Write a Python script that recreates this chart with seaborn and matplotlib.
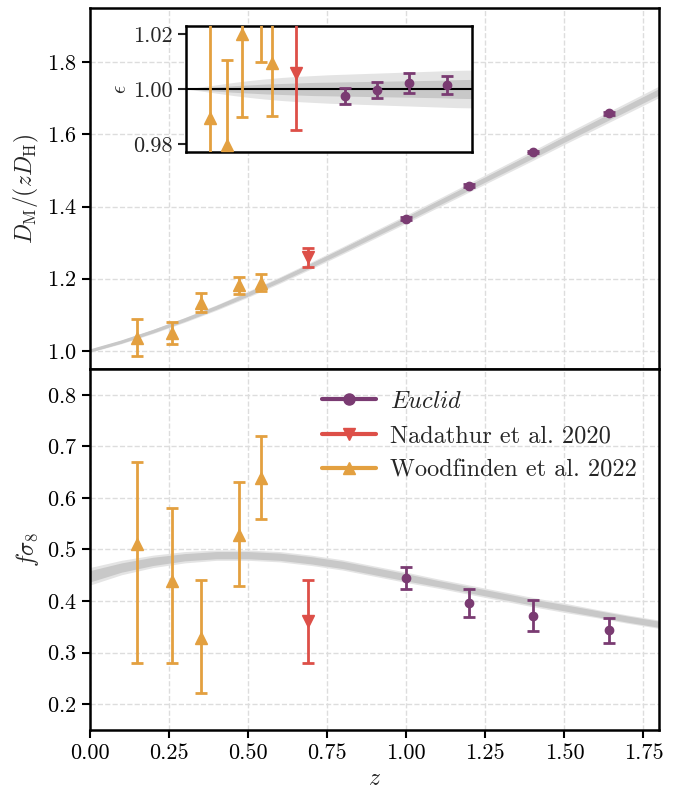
import numpy as np
import matplotlib
matplotlib.use("Agg")
import matplotlib.pyplot as plt
import seaborn as sns
from matplotlib.lines import Line2D

# theory curves
z_th = [0.0, 0.1, 0.2, 0.3, 0.4, 0.5, 0.6, 0.7, 0.8, 0.9, 1.0, 1.1, 1.2, 1.3, 1.4, 1.5, 1.6, 1.7, 1.8]
dm_th = [1.000, 1.025, 1.054, 1.086, 1.120, 1.157, 1.196, 1.237, 1.279, 1.322, 1.365, 1.409, 1.453,
         1.497, 1.541, 1.586, 1.630, 1.674, 1.718]
fs8_th = [0.448, 0.465, 0.477, 0.485, 0.489, 0.489, 0.486, 0.479, 0.470, 0.458, 0.446, 0.434, 0.422,
          0.410, 0.398, 0.387, 0.376, 0.365, 0.355]
eps_outer = [0.0, 0.0008, 0.0016, 0.0024, 0.0031, 0.0037, 0.0042, 0.0046, 0.0049, 0.0052, 0.0054,
             0.0056, 0.0058, 0.0060, 0.0062, 0.0064, 0.0066, 0.0068, 0.0069]
eps_inner = [0.0, 0.0004, 0.0008, 0.0012, 0.0015, 0.0018, 0.0020, 0.0022, 0.0024, 0.0025, 0.0026,
             0.0027, 0.0028, 0.0029, 0.0030, 0.0031, 0.0032, 0.0034, 0.0035]
fs8_outer = [0.017, 0.014, 0.012, 0.011, 0.010, 0.010, 0.010, 0.010, 0.010, 0.010, 0.010, 0.009,
             0.009, 0.009, 0.009, 0.009, 0.008, 0.008, 0.008]
fs8_inner = [0.011, 0.009, 0.008, 0.007, 0.007, 0.007, 0.007, 0.007, 0.007, 0.007, 0.007, 0.006,
             0.006, 0.006, 0.006, 0.006, 0.006, 0.006, 0.006]

# Euclid forecast
z_euc = [1.0, 1.2, 1.4, 1.64]
dm_euc = [1.366, 1.457, 1.551, 1.658]
dm_euc_err = [0.004, 0.004, 0.004, 0.004]
fs8_euc = [0.445, 0.397, 0.372, 0.343]
fs8_euc_err = [0.022, 0.027, 0.030, 0.024]
eps_euc = [0.9975, 0.9996, 1.0022, 1.0015]
eps_euc_err = [0.0028, 0.0030, 0.0038, 0.0034]

# Nadathur et al. 2020
z_nad = [0.69]
dm_nad = [1.259]
dm_nad_err = [0.026]
fs8_nad = [0.361]
fs8_nad_lo = [0.28]
fs8_nad_hi = [0.441]
eps_nad = [1.0057]
eps_nad_err = [0.0207]

# Woodfinden et al. 2022
z_woo = [0.15, 0.26, 0.35, 0.47, 0.54]
dm_woo = [1.037, 1.049, 1.134, 1.182, 1.189]
dm_woo_err = [0.052, 0.030, 0.026, 0.024, 0.023]
fs8_woo = [0.51, 0.439, 0.329, 0.529, 0.639]
fs8_woo_lo = [0.28, 0.28, 0.221, 0.429, 0.560]
fs8_woo_hi = [0.670, 0.581, 0.441, 0.630, 0.720]
eps_woo = [0.9894, 0.9796, 1.0199, 1.031, 1.0096]
eps_woo_err = [0.048, 0.031, 0.030, 0.021, 0.0193]

c_euc = "#7a3b72"
c_nad = "#dd4f48"
c_woo = "#e3a040"
band_dark = "#c8c8c8"
band_light = "#e4e4e4"

sns.set_theme(style="ticks")
plt.rcParams["font.family"] = ["cmr10", "DejaVu Serif"]
plt.rcParams["mathtext.fontset"] = "cm"
plt.rcParams["axes.formatter.use_mathtext"] = True
plt.rcParams["axes.unicode_minus"] = False
plt.rcParams["font.size"] = 16
plt.rcParams["axes.labelsize"] = 17

fig, (ax1, ax2) = plt.subplots(2, 1, figsize=(6.86, 7.94), dpi=100, sharex=True)
fig.subplots_adjust(left=0.131, right=0.961, top=0.990, bottom=0.0806, hspace=0)

zt = np.array(z_th)
dmt = np.array(dm_th)
ft = np.array(fs8_th)

# top panel
ax1.fill_between(zt, dmt * (1 - np.array(eps_outer)) - 0.004, dmt * (1 + np.array(eps_outer)) + 0.004,
                 color=band_light, lw=0, zorder=1)
ax1.fill_between(zt, dmt * (1 - np.array(eps_inner)) - 0.003, dmt * (1 + np.array(eps_inner)) + 0.003,
                 color=band_dark, lw=0, zorder=1)
sns.lineplot(x=z_th, y=dm_th, ax=ax1, color=band_dark, lw=2, zorder=1)

eb = dict(capsize=4.5, capthick=2, elinewidth=2, ls="none", zorder=3)
ax1.errorbar(z_woo, dm_woo, yerr=dm_woo_err, fmt="^", color=c_woo, ms=9, **eb)
ax1.errorbar(z_nad, dm_nad, yerr=dm_nad_err, fmt="v", color=c_nad, ms=9, **eb)
ax1.errorbar(z_euc, dm_euc, yerr=dm_euc_err, fmt="o", color=c_euc, ms=6, **eb)

ax1.set_ylim(0.95, 1.95)
ax1.set_yticks([1.0, 1.2, 1.4, 1.6, 1.8])
ax1.set_ylabel(r"$D_{\rm M}/(zD_{\rm H})$", fontsize=17)

# bottom panel
ax2.fill_between(zt, ft - np.array(fs8_outer), ft + np.array(fs8_outer), color=band_light, lw=0, zorder=1)
ax2.fill_between(zt, ft - np.array(fs8_inner), ft + np.array(fs8_inner), color=band_dark, lw=0, zorder=1)

ax2.errorbar(z_woo, fs8_woo, yerr=[np.array(fs8_woo) - np.array(fs8_woo_lo), np.array(fs8_woo_hi) - np.array(fs8_woo)],
             fmt="^", color=c_woo, ms=9, **eb)
ax2.errorbar(z_nad, fs8_nad, yerr=[np.array(fs8_nad) - np.array(fs8_nad_lo), np.array(fs8_nad_hi) - np.array(fs8_nad)],
             fmt="v", color=c_nad, ms=9, **eb)
ax2.errorbar(z_euc, fs8_euc, yerr=fs8_euc_err, fmt="o", color=c_euc, ms=6, **eb)

ax2.set_ylim(0.15, 0.85)
ax2.set_yticks([0.2, 0.3, 0.4, 0.5, 0.6, 0.7, 0.8])
ax2.set_xlim(0, 1.8)
ax2.set_xticks([0.0, 0.25, 0.5, 0.75, 1.0, 1.25, 1.5, 1.75])
ax2.xaxis.set_major_formatter(matplotlib.ticker.FormatStrFormatter("%.2f"))
ax2.set_ylabel(r"$f\sigma_8$", fontsize=17)
ax2.set_xlabel(r"$z$", fontsize=17)

handles = [Line2D([], [], color=c_euc, marker="o", lw=3, ms=8),
           Line2D([], [], color=c_nad, marker="v", lw=3, ms=9),
           Line2D([], [], color=c_woo, marker="^", lw=3, ms=9)]
labels = [r"$\mathit{Euclid}$", "Nadathur et al. 2020", "Woodfinden et al. 2022"]
ax2.legend(handles, labels, loc="upper right", frameon=False, fontsize=17.5,
           handlelength=2.2, handletextpad=0.6, borderaxespad=0.5, labelspacing=0.5)

for ax in (ax1, ax2):
    ax.grid(True, ls="--", color="#dddddd", lw=1)
    ax.set_axisbelow(True)
    for s in ax.spines.values():
        s.set_linewidth(1.8)
        s.set_color("black")
    ax.tick_params(direction="out", length=6, width=1.5, labelsize=16, colors="black")
ax1.tick_params(axis="x", bottom=False, labelbottom=False)

# inset
ins = ax1.inset_axes([0.169, 0.601, 0.503, 0.349])
ins.fill_between(zt, 1 - np.array(eps_outer), 1 + np.array(eps_outer), color=band_light, lw=0, zorder=1)
ins.fill_between(zt, 1 - np.array(eps_inner), 1 + np.array(eps_inner), color=band_dark, lw=0, zorder=1)
ins.axhline(1.0, color="black", lw=1.5, zorder=2)
ins.errorbar(z_woo, eps_woo, yerr=eps_woo_err, fmt="^", color=c_woo, ms=9, **eb)
ins.errorbar(z_nad, eps_nad, yerr=eps_nad_err, fmt="v", color=c_nad, ms=9, **eb)
ins.errorbar(z_euc, eps_euc, yerr=eps_euc_err, fmt="o", color=c_euc, ms=6, **eb)
ins.set_xlim(0, 1.8)
ins.set_ylim(0.977, 1.023)
ins.set_yticks([0.98, 1.00, 1.02])
ins.yaxis.set_major_formatter(matplotlib.ticker.FormatStrFormatter("%.2f"))
ins.set_ylabel(r"$\epsilon$", labelpad=2, fontsize=15)
ins.tick_params(axis="x", bottom=False, labelbottom=False)
ins.tick_params(axis="y", direction="out", length=6, width=1.5, labelsize=16)
for s in ins.spines.values():
    s.set_linewidth(1.8)
    s.set_color("black")

fig.savefig("out.png", dpi=100)
